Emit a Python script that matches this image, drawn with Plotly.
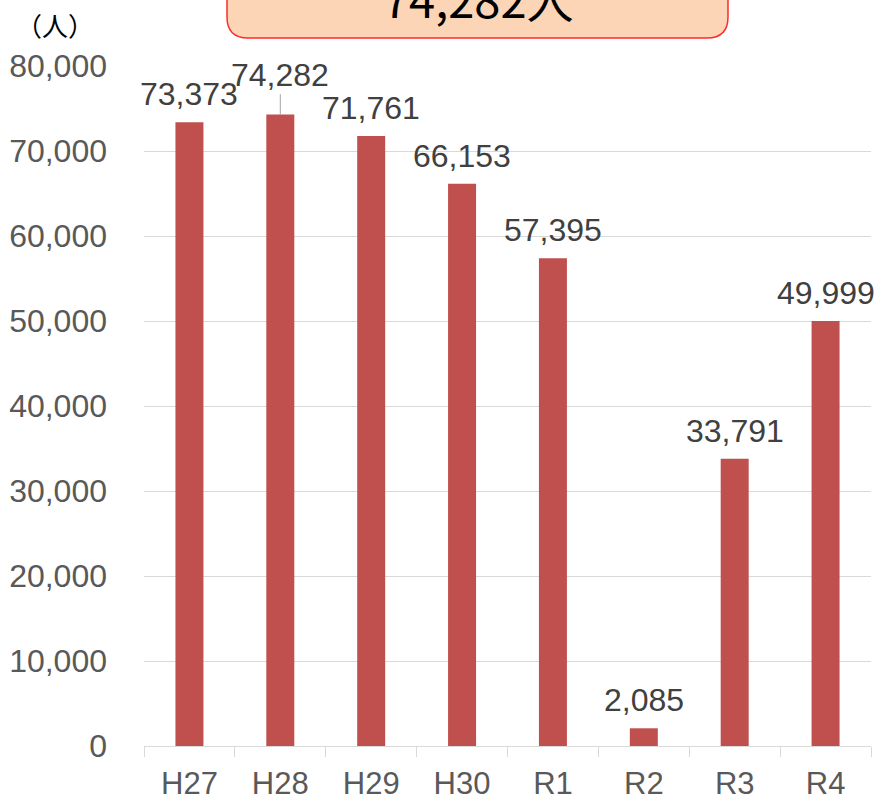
import plotly.graph_objects as go

categories = ["H27", "H28", "H29", "H30", "R1", "R2", "R3", "R4"]
visitors = [73373, 74282, 71761, 66153, 57395, 2085, 33791, 49999]
y_ticks = [0, 10000, 20000, 30000, 40000, 50000, 60000, 70000, 80000]
y_tick_text = ["0", "10,000", "20,000", "30,000", "40,000", "50,000", "60,000", "70,000", "80,000"]
headline = "74,282人"
unit_label = "（人）"

W, H = 877, 797
L, R, T, B = 144, 6, 66, 51
PW, PH = W - L - R, H - T - B

def px_x(px):
    return (px - L) / PW

def px_y(py):
    return (H - B - py) / PH

fig = go.Figure()
fig.add_trace(go.Bar(
    x=categories, y=visitors,
    marker=dict(color="#C0504D", line=dict(width=0)),
    hoverinfo="x+y",
))

label_font = dict(family="Liberation Sans, Arial, sans-serif", size=32, color="#404040")
annotations = []
for c, v in zip(categories, visitors):
    txt = f"{v:,}"
    if c == "H28":
        annotations.append(dict(
            x=c, y=v, xref="x", yref="y", text=txt, font=label_font,
            showarrow=True, arrowhead=0, arrowwidth=1, arrowcolor="#A6A6A6",
            ax=0, ay=-40, standoff=0,
        ))
    else:
        annotations.append(dict(
            x=c, y=v, xref="x", yref="y", text=txt, font=label_font,
            showarrow=False, yanchor="middle", yshift=28,
        ))

# headline box text
annotations.append(dict(
    x=px_x(478), y=px_y(-2), xref="paper", yref="paper", text=headline,
    showarrow=False, xanchor="center", yanchor="middle",
    font=dict(family="Noto Sans CJK JP, sans-serif", size=47, color="#000000"),
))
annotations.append(dict(
    x=px_x(55), y=px_y(25), xref="paper", yref="paper", text=unit_label,
    showarrow=False, xanchor="center", yanchor="middle",
    font=dict(family="Noto Sans CJK JP, sans-serif", size=26, color="#000000"),
))

# rounded rectangle for headline box
bx0, bx1, by0, by1, r = 227, 728, -30, 38, 21
def P(px, py):
    return f"{px_x(px):.5f},{px_y(py):.5f}"
path = (f"M {P(bx0, by0)} L {P(bx0, by1 - r)} Q {P(bx0, by1)} {P(bx0 + r, by1)} "
        f"L {P(bx1 - r, by1)} Q {P(bx1, by1)} {P(bx1, by1 - r)} L {P(bx1, by0)} Z")

fig.update_layout(
    width=W, height=H,
    margin=dict(l=L, r=R, t=T, b=B, pad=0, autoexpand=False),
    paper_bgcolor="white", plot_bgcolor="white",
    showlegend=False,
    bargap=0.692,
    font=dict(family="Liberation Sans, Arial, sans-serif"),
    annotations=annotations,
    shapes=[dict(type="path", path=path, xref="paper", yref="paper",
                 fillcolor="#FBD5B5", line=dict(color="#FF2A2A", width=1.5), layer="above")],
    xaxis=dict(
        automargin=False, range=[-0.5, len(categories) - 0.5],
        showline=True, linecolor="#D9D9D9", linewidth=1.3,
        ticks="outside", tickson="boundaries", ticklen=10, tickcolor="#D9D9D9", tickwidth=1.3,
        tickfont=dict(family="Liberation Sans, Arial, sans-serif", size=31, color="#595959"),
        ticklabelstandoff=10, showgrid=False, fixedrange=True,
    ),
    yaxis=dict(
        automargin=False,
        range=[0, 80000], tickvals=y_ticks, ticktext=y_tick_text,
        showgrid=True, gridcolor="#D9D9D9", gridwidth=1.3,
        showline=False, zeroline=False, ticks="",
        tickfont=dict(family="Liberation Sans, Arial, sans-serif", size=32, color="#595959"),
        ticklabelstandoff=36, fixedrange=True,
    ),
)

fig.write_html(
    "out.html",
    config={"displayModeBar": False},
    post_script="document.body.style.margin='0';document.body.style.overflow='hidden';",
)
